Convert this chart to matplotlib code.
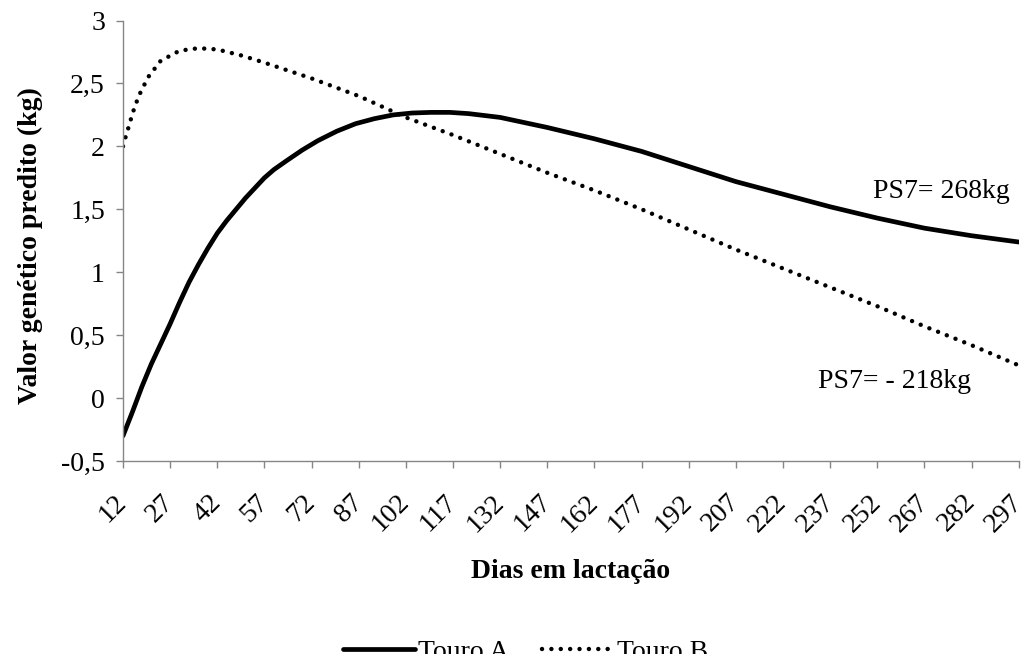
import matplotlib
matplotlib.use("Agg")
import matplotlib.pyplot as plt

plt.rcParams['font.family'] = ['Liberation Serif', 'DejaVu Serif']

# Data
days_a = [12, 15, 18, 21, 24, 27, 30, 33, 36, 39, 42, 45, 48, 51, 54, 57, 60, 64, 69, 74,
          80, 86, 92, 98, 104, 110, 116, 122, 132, 147, 162, 177, 192, 207, 222, 237,
          252, 267, 282, 297]
touro_a = [-0.30, -0.11, 0.09, 0.27, 0.43, 0.59, 0.76, 0.92, 1.06, 1.19, 1.31, 1.41, 1.50,
           1.59, 1.67, 1.75, 1.815, 1.885, 1.97, 2.045, 2.12, 2.18, 2.22, 2.25, 2.265,
           2.27, 2.27, 2.26, 2.23, 2.15, 2.06, 1.96, 1.84, 1.72, 1.62, 1.52, 1.43, 1.35,
           1.29, 1.24]

days_b = [12, 13, 14, 15, 17, 20, 24, 30, 36, 42, 50, 57, 72, 87, 102, 117, 132, 147, 162,
          177, 192, 207, 222, 237, 252, 267, 282, 297]
touro_b = [2.00, 2.09, 2.17, 2.26, 2.40, 2.55, 2.68, 2.76, 2.78, 2.77, 2.72, 2.665, 2.54,
           2.40, 2.23, 2.09, 1.94, 1.79, 1.65, 1.50, 1.34, 1.18, 1.03, 0.88, 0.73, 0.57,
           0.42, 0.26]

xticks = list(range(12, 298, 15))
yticks = [-0.5, 0, 0.5, 1, 1.5, 2, 2.5, 3]
ytick_labels = ['-0,5', '0', '0,5', '1', '1,5', '2', '2,5', '3']

FS = 20

fig = plt.figure(figsize=(10.25, 6.54), dpi=100)
ax_w = (1018.7 - 123) / 1025
ax_h = (461 - 20.5) / 654
ax = fig.add_axes([123/1025, 1 - 461/654, ax_w, ax_h])

ax.plot(days_a, touro_a, color='black', lw=3.4, solid_capstyle='round', label='Touro A')
ax.plot(days_b, touro_b, color='black', lw=3.2, linestyle=(0, (0.01, 2.1)),
        dash_capstyle='round', label='Touro B')

ax.set_xlim(12, 297)
ax.set_ylim(-0.5, 3)
ax.set_xticks(xticks)
ax.set_xticklabels([str(t) for t in xticks], rotation=45, ha='right', va='center',
                   rotation_mode='anchor', fontsize=FS)
ax.set_yticks(yticks)
ax.set_yticklabels(ytick_labels, fontsize=FS)

for s in ['top', 'right']:
    ax.spines[s].set_visible(False)
for s in ['left', 'bottom']:
    ax.spines[s].set_color('#868686')
    ax.spines[s].set_linewidth(1.0)
ax.tick_params(axis='both', colors='#868686', labelcolor='black', length=5, width=1.0)
ax.tick_params(axis='x', pad=22)
ax.tick_params(axis='y', pad=8)

ax.set_xlabel('Dias em lactação', fontsize=FS, fontweight='bold', va='center')
ax.xaxis.set_label_coords(0.5, -(571 - 461) / 440.5)
ax.set_ylabel('Valor genético predito (kg)', fontsize=FS, fontweight='bold', va='center')
ax.yaxis.set_label_coords(-(123 - 30) / 895.7, (461 - 246) / 440.5)

ax.text(250.5, 1.59, 'PS7= 268kg', fontsize=FS, va='baseline', ha='left')
ax.text(233, 0.083, 'PS7= - 218kg', fontsize=FS, va='baseline', ha='left')

fig.legend(loc='center', bbox_to_anchor=(0.513, 1 - 652/654), ncol=2, frameon=False,
           fontsize=FS, handlelength=2.6, handletextpad=0.1, columnspacing=1.2,
           borderaxespad=0, borderpad=0)

fig.savefig('out.png', dpi=100)
